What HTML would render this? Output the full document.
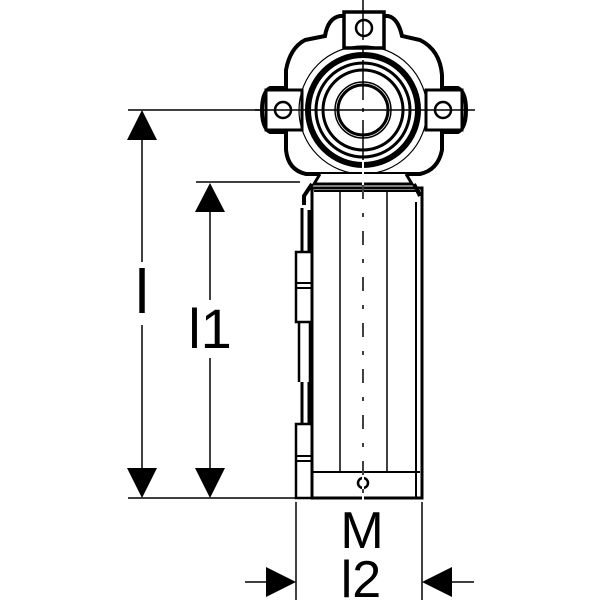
<!DOCTYPE html>
<html><head><style>html,body{margin:0;padding:0;background:#fff}svg{display:block}text{font-family:"Liberation Sans",sans-serif;fill:#000}</style></head>
<body>
<svg width="600" height="600" viewBox="0 0 600 600" xmlns="http://www.w3.org/2000/svg">
<g fill="none" stroke="#000">
<!-- dimension l -->
<line x1="128" y1="110" x2="290" y2="110" stroke-width="1.5"/>
<line x1="128" y1="498" x2="300" y2="498" stroke-width="1.5"/>
<line x1="142" y1="130" x2="142" y2="262" stroke-width="1.5"/>
<line x1="142" y1="325" x2="142" y2="480" stroke-width="1.5"/>
<!-- l1 -->
<line x1="196" y1="182" x2="300" y2="182" stroke-width="1.5"/>
<line x1="210" y1="200" x2="210" y2="300" stroke-width="1.5"/>
<line x1="210" y1="358" x2="210" y2="480" stroke-width="1.5"/>
<!-- l2 -->
<line x1="296" y1="502" x2="296" y2="600" stroke-width="1.5"/>
<line x1="422" y1="502" x2="422" y2="600" stroke-width="1.5"/>
<line x1="245" y1="582" x2="280" y2="582" stroke-width="1.5"/>
<line x1="440" y1="582" x2="474" y2="582" stroke-width="1.5"/>
</g>
<g fill="#000">
<polygon points="142,110 127,140 157,140"/>
<polygon points="142,498 127,468 157,468"/>
<polygon points="210,183 195,212 225,212"/>
<polygon points="210,498 195,468 225,468"/>
<polygon points="296,582 266,567 266,597"/>
<polygon points="422,582 452,567 452,597"/>
</g>
<text x="142" y="313" font-size="62" text-anchor="middle">l</text>
<text x="210" y="348" font-size="56" text-anchor="middle">l1</text>
<text x="362" y="548" font-size="52" text-anchor="middle">M</text>
<text x="361" y="597" font-size="52" text-anchor="middle">l2</text>

<!-- head -->
<g fill="none" stroke="#000">
<path d="M305,40 L325,36 Q328,18 340,16 L388,16 Q398,18 402,36 L420,40 Q440,50 442,75 L442,88 L458,88 Q466,92 466,110 Q466,128 458,132 L442,132 L442,150 Q438,170 420,174 L306,174 Q288,170 286,150 L286,132 L270,132 Q262,128 262,110 Q262,92 270,88 L286,88 L286,70 Q290,48 305,40 Z" stroke-width="4" fill="#fff"/>
<rect x="344" y="12" width="40" height="36" stroke-width="3.5" fill="#fff"/>
<circle cx="364" cy="28" r="8" stroke-width="2.5"/>
<rect x="266" y="90" width="36" height="40" stroke-width="3" fill="#fff"/>
<circle cx="283" cy="110" r="8" stroke-width="2.5"/>
<rect x="426" y="90" width="36" height="40" stroke-width="3" fill="#fff"/>
<circle cx="443" cy="110" r="8" stroke-width="2.5"/>
<circle cx="363" cy="110" r="64" stroke-width="1.2"/>
<circle cx="363" cy="110" r="55" stroke-width="6"/>
<circle cx="363" cy="110" r="47" stroke-width="3"/>
<circle cx="363" cy="110" r="40" stroke-width="3"/>
<circle cx="363" cy="110" r="28" stroke-width="1.5"/>
<circle cx="363" cy="110" r="25" stroke-width="3"/>
<line x1="363" y1="0" x2="363" y2="500" stroke-width="1.5" stroke-dasharray="40,8,4,8"/>
<line x1="255" y1="110" x2="475" y2="110" stroke-width="1.5"/>
<!-- collar -->
<path d="M320,174 L314,184 L412,184 L406,174" stroke-width="3" fill="#fff"/>
<path d="M312,184 L304,196 L304,205 M414,184 L420,196" stroke-width="4"/>
<!-- tube -->
<rect x="312" y="188" width="110" height="310" stroke-width="3" fill="none"/>
<line x1="314" y1="191" x2="420" y2="191" stroke-width="2"/>
<line x1="340" y1="192" x2="340" y2="472" stroke-width="1.5"/>
<line x1="387" y1="192" x2="387" y2="472" stroke-width="1.5"/>
<line x1="313" y1="472" x2="420" y2="472" stroke-width="2"/>
<line x1="416" y1="202" x2="416" y2="498" stroke-width="2"/>
<circle cx="363" cy="483" r="5" stroke-width="2.5"/>
<line x1="363" y1="160" x2="363" y2="500" stroke-width="2" stroke="#fff" stroke-dasharray="0"/>
<line x1="363" y1="185" x2="363" y2="500" stroke-width="1.5" stroke-dasharray="14,14,4,14"/>
<!-- clips -->
<path d="M302,208 L302,252 M309,210 L309,252" stroke-width="3"/>
<rect x="296" y="252" width="16" height="70" stroke-width="2.5"/>
<line x1="297" y1="283" x2="311" y2="283" stroke-width="2"/>
<line x1="297" y1="288" x2="311" y2="288" stroke-width="2"/>
<path d="M299,322 L299,382 M310,322 L310,382" stroke-width="2.5"/>
<path d="M302,382 L302,424 M309,382 L309,424" stroke-width="3"/>
<rect x="296" y="424" width="16" height="74" stroke-width="2.5"/>
<line x1="297" y1="456" x2="311" y2="456" stroke-width="2"/>
<line x1="297" y1="461" x2="311" y2="461" stroke-width="2"/>
</g>
</svg>
</body></html>
